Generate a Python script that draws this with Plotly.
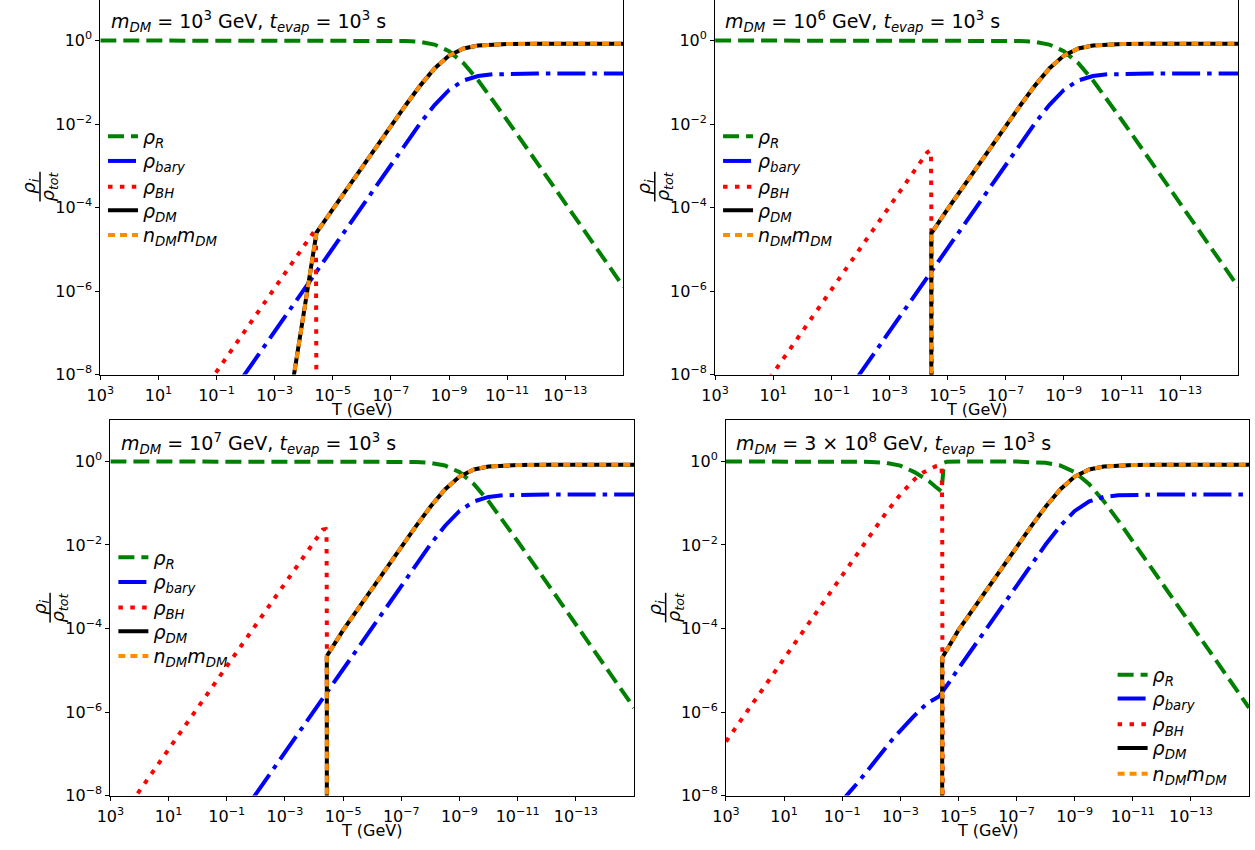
import numpy as np
import plotly.graph_objects as go

W, H = 1255, 850

# ---------------------------------------------------------------------------
# Data: log10(T / GeV) and log10(rho_i / rho_tot) for each panel
# ---------------------------------------------------------------------------

# radiation fraction, shared by the light-DM panels
R_logT = [3, -5, -6, -7, -7.5, -8, -8.5, -9, -9.5, -10, -10.5, -11, -12, -13, -14, -15]
R_log = [0, 0, -0.0003, -0.003, -0.011, -0.033, -0.097, -0.254, -0.545, -0.951,
         -1.417, -1.91, -2.90, -3.90, -4.90, -5.90]

# radiation with a small dip at BH evaporation (m_DM = 1e7 GeV)
R7_logT = [3, -4.0, -4.2, -4.4, -4.47, -5, -6, -7, -7.5, -8, -8.5, -9, -9.5, -10, -10.5, -11, -12, -13, -14, -15]
R7_log = [0, -0.004, -0.008, -0.012, 0, 0, -0.0003, -0.003, -0.011, -0.033, -0.097,
          -0.254, -0.545, -0.951, -1.417, -1.91, -2.90, -3.90, -4.90, -5.90]

# radiation for m_DM = 3e8 GeV (early BH domination)
R8_logT = [3, 0, -1, -2, -2.5, -3, -3.5, -3.8, -4.0, -4.2, -4.35, -4.42, -4.44, -4.46, -4.50,
           -4.6, -5, -6, -7, -7.5, -8, -8.5, -9, -9.5, -10, -10.5, -11, -12, -13, -14, -15]
R8_log = [0, -0.0001, -0.001, -0.01, -0.03, -0.10, -0.26, -0.38, -0.48, -0.60, -0.69, -0.72,
          -0.55, -0.2, -0.03, -0.005, 0, -0.0003, -0.003, -0.011, -0.033, -0.097, -0.254,
          -0.545, -0.951, -1.417, -1.91, -2.90, -3.90, -4.90, -5.90]

# baryon fraction (standard history)
B_logT = [-1, -2, -4, -6, -7, -7.5, -8, -8.5, -9, -9.5, -10, -10.5, -11, -12, -15]
B_log = [-8.96, -7.96, -5.96, -3.96, -2.963, -2.470, -1.989, -1.545, -1.185, -0.957,
         -0.850, -0.810, -0.797, -0.792, -0.79]

# baryon fraction for m_DM = 3e8 GeV
B8_logT = [-0.9, -1.15, -1.55, -2.09, -2.77, -3.45, -3.92, -4.33, -4.45, -4.67, -5, -6, -7,
           -7.5, -8, -8.5, -9, -9.5, -10, -10.5, -11, -12, -15]
B8_log = [-8.25, -8.0, -7.68, -7.21, -6.62, -6.11, -5.79, -5.63, -5.52, -5.30, -4.96, -3.96,
          -2.963, -2.470, -1.989, -1.545, -1.185, -0.957, -0.850, -0.810, -0.797, -0.792, -0.79]

# black hole fraction
BH3_logT = [3, -4.40, -4.42, -4.43, -4.45]
BH3_log = [-11.93, -4.53, -4.8, -6.0, -12]
BH6_logT = [3, -4.0, -4.30, -4.40, -4.43, -4.44, -4.46]
BH6_log = [-9.96, -2.96, -2.68, -2.63, -2.75, -4.0, -12]
BH7_logT = [3, -4.0, -4.30, -4.40, -4.43, -4.44, -4.46]
BH7_log = [-8.88, -1.90, -1.63, -1.62, -1.80, -4.0, -12]
BH8_logT = [3, 0, -1, -2, -2.5, -3, -3.5, -3.8, -4.0, -4.2, -4.38, -4.42, -4.44, -4.45, -4.46]
BH8_log = [-6.71, -3.71, -2.72, -1.72, -1.24, -0.79, -0.42, -0.26, -0.18, -0.12, -0.09,
           -0.12, -1.0, -4.0, -12]

# dark matter energy fraction (rho_DM)
DM_late_logT = [-5, -6, -7, -7.5, -8, -8.5, -9, -9.5, -10, -10.5, -11, -12, -15]
DM_late_log = [-4.04, -3.04, -2.05, -1.556, -1.086, -0.670, -0.362, -0.191, -0.119,
               -0.093, -0.085, -0.080, -0.080]

DM3_logT = [-3.3, -3.67, -4.40, -4.44] + DM_late_logT
DM3_log = [-9.6, -8.0, -4.85, -4.60] + DM_late_log
DM6_logT = [-4.44, -4.44] + DM_late_logT
DM6_log = [-12, -4.62] + DM_late_log
DM7_logT = [-4.44, -4.44] + DM_late_logT
DM7_log = [-12, -4.66] + DM_late_log
DM8_logT = [-4.44, -4.44] + DM_late_logT
DM8_log = [-12, -4.70] + DM_late_log

# n_DM * m_DM follows rho_DM
N3_logT, N3_log = list(DM3_logT), list(DM3_log)
N6_logT, N6_log = list(DM6_logT), list(DM6_log)
N7_logT, N7_log = list(DM7_logT), list(DM7_log)
N8_logT, N8_log = list(DM8_logT), list(DM8_log)

# axis ticks
x_tick_exp = [3, 1, -1, -3, -5, -7, -9, -11, -13]
y_tick_exp = [0, -2, -4, -6, -8]

panel_titles = [
    "<i>m</i><sub><i>DM</i></sub> = 10<sup>3</sup> GeV, <i>t</i><sub><i>evap</i></sub> = 10<sup>3</sup> s",
    "<i>m</i><sub><i>DM</i></sub> = 10<sup>6</sup> GeV, <i>t</i><sub><i>evap</i></sub> = 10<sup>3</sup> s",
    "<i>m</i><sub><i>DM</i></sub> = 10<sup>7</sup> GeV, <i>t</i><sub><i>evap</i></sub> = 10<sup>3</sup> s",
    "<i>m</i><sub><i>DM</i></sub> = 3 × 10<sup>8</sup> GeV, <i>t</i><sub><i>evap</i></sub> = 10<sup>3</sup> s",
]

series_names = [
    "<i>ρ</i><sub><i>R</i></sub>",
    "<i>ρ</i><sub><i>bary</i></sub>",
    "<i>ρ</i><sub><i>BH</i></sub>",
    "<i>ρ</i><sub><i>DM</i></sub>",
    "<i>n</i><sub><i>DM</i></sub><i>m</i><sub><i>DM</i></sub>",
]

series_styles = [
    dict(color="#008000", width=4, dash="16px,7px"),
    dict(color="#0000FF", width=4, dash="28px,7px,4.5px,7px"),
    dict(color="#FF0000", width=4, dash="4.5px,7.4px"),
    dict(color="#000000", width=4),
    dict(color="#FF8C00", width=4, dash="7px,5px"),
]

panel_data = [
    [(R_logT, R_log), (B_logT, B_log), (BH3_logT, BH3_log), (DM3_logT, DM3_log), (N3_logT, N3_log)],
    [(R_logT, R_log), (B_logT, B_log), (BH6_logT, BH6_log), (DM6_logT, DM6_log), (N6_logT, N6_log)],
    [(R7_logT, R7_log), (B_logT, B_log), (BH7_logT, BH7_log), (DM7_logT, DM7_log), (N7_logT, N7_log)],
    [(R8_logT, R8_log), (B8_logT, B8_log), (BH8_logT, BH8_log), (DM8_logT, DM8_log), (N8_logT, N8_log)],
]

# ---------------------------------------------------------------------------
# Layout geometry (pixels)
# ---------------------------------------------------------------------------
# (left, right, top, bottom) of each plotting area; top row runs past the page top
boxes = [
    (87.3, 616.3, -1.25, 379.0),
    (709.0, 1238.0, -1.25, 379.0),
    (97.5, 627.0, 424.7, 805.0),
    (720.0, 1249.0, 424.7, 805.0),
]
y_top_exp = [0.970, 0.970, 1.0, 1.0]

# legend: left end of the line sample and the centre of every row
legend_x = [102, 724, 112.5, 1123]
legend_rows = [
    [138, 163, 189, 213, 238],
    [138, 163, 189, 213, 238],
    [564, 589, 615, 639, 664],
    [683, 707, 733, 757, 783],
]
LEGEND_DX = 12  # offset from legend box edge to the line sample

FONT = "DejaVu Sans"
TICK_SIZE = 16
TEXT_SIZE = 19


def px(x):
    return x / W


def py(y):
    return 1 - y / H


fig = go.Figure()

k = 0
for i, data in enumerate(panel_data):
    n = i + 1
    xa = "x" if n == 1 else f"x{n}"
    ya = "y" if n == 1 else f"y{n}"
    for (lt, lv), name, style in zip(data, series_names, series_styles):
        k += 1
        fig.add_trace(go.Scatter(
            x=10 ** np.array(lt, dtype=float),
            y=10 ** np.array(lv, dtype=float),
            mode="lines", name=name, line=style,
            xaxis=xa, yaxis=ya,
            legend="legend" if k == 1 else f"legend{k}", showlegend=True,
        ))

layout = dict(
    width=W, height=H, margin=dict(l=0, r=0, t=0, b=0),
    paper_bgcolor="white", plot_bgcolor="white",
    font=dict(family=FONT, size=TICK_SIZE, color="black"),
    annotations=[], shapes=[],
)

k = 0
for i, (l, r, t, b) in enumerate(boxes):
    n = i + 1
    top_row = i < 2
    xkey = "xaxis" if n == 1 else f"xaxis{n}"
    ykey = "yaxis" if n == 1 else f"yaxis{n}"
    ya = "y" if n == 1 else f"y{n}"
    xa = "x" if n == 1 else f"x{n}"
    layout[xkey] = dict(
        domain=[px(l), px(r)], anchor=ya, type="log", range=[3, -15],
        tickvals=[10.0 ** e for e in x_tick_exp],
        ticktext=[f"10<sup>{str(e).replace('-', '−')}</sup>" for e in x_tick_exp],
        ticks="outside", ticklen=4, tickwidth=1, tickcolor="black",
        ticklabelstandoff=2,
        showline=True, linecolor="black", linewidth=1, mirror=not top_row,
        showgrid=False, zeroline=False, tickfont=dict(size=TICK_SIZE),
    )
    layout[ykey] = dict(
        domain=[py(b), min(1.0, py(t))], anchor=xa, type="log",
        range=[-8, y_top_exp[i]],
        tickvals=[10.0 ** e for e in y_tick_exp],
        ticktext=[f"10<sup>{str(e).replace('-', '−')}</sup>" for e in y_tick_exp],
        ticks="outside", ticklen=4, tickwidth=1, tickcolor="black",
        showline=True, linecolor="black", linewidth=1, mirror=True,
        showgrid=False, zeroline=False, tickfont=dict(size=TICK_SIZE),
    )

    # panel title, just above the 10^0 level
    y_one = t + (b - t) * y_top_exp[i] / (y_top_exp[i] + 8)
    layout["annotations"].append(dict(
        text=panel_titles[i], xref="paper", yref="paper",
        x=px(l + 8.5), y=py(y_one - 18),
        xanchor="left", yanchor="middle", showarrow=False, font=dict(size=TEXT_SIZE),
    ))

    # x-axis title
    layout["annotations"].append(dict(
        text="T (GeV)", xref="paper", yref="paper",
        x=px((l + r) / 2), y=py(b + 35), xanchor="center", yanchor="middle",
        showarrow=False, font=dict(size=TICK_SIZE),
    ))

    # y-axis title as a stacked fraction rho_i / rho_tot
    yc = (b + t) / 2
    layout["annotations"].append(dict(
        text="<i>ρ</i><sub><i>i</i></sub>", xref="paper", yref="paper",
        x=px(l - 71), y=py(yc), xanchor="center", yanchor="middle",
        textangle=-90, showarrow=False, font=dict(size=18),
    ))
    layout["annotations"].append(dict(
        text="<i>ρ</i><sub><i>tot</i></sub>", xref="paper", yref="paper",
        x=px(l - 52), y=py(yc), xanchor="center", yanchor="middle",
        textangle=-90, showarrow=False, font=dict(size=18),
    ))
    layout["shapes"].append(dict(
        type="line", xref="paper", yref="paper",
        x0=px(l - 61), x1=px(l - 61), y0=py(yc - 15), y1=py(yc + 15),
        line=dict(color="black", width=1.5),
    ))

    # one single-entry legend per series, stacked down the panel
    for row_y in legend_rows[i]:
        k += 1
        lkey = "legend" if k == 1 else f"legend{k}"
        layout[lkey] = dict(
            x=px(legend_x[i] - LEGEND_DX), y=py(row_y), xanchor="left", yanchor="middle",
            bgcolor="rgba(0,0,0,0)", borderwidth=0, font=dict(size=TEXT_SIZE),
        )

fig.update_layout(**layout)
fig.write_html("out.html")
